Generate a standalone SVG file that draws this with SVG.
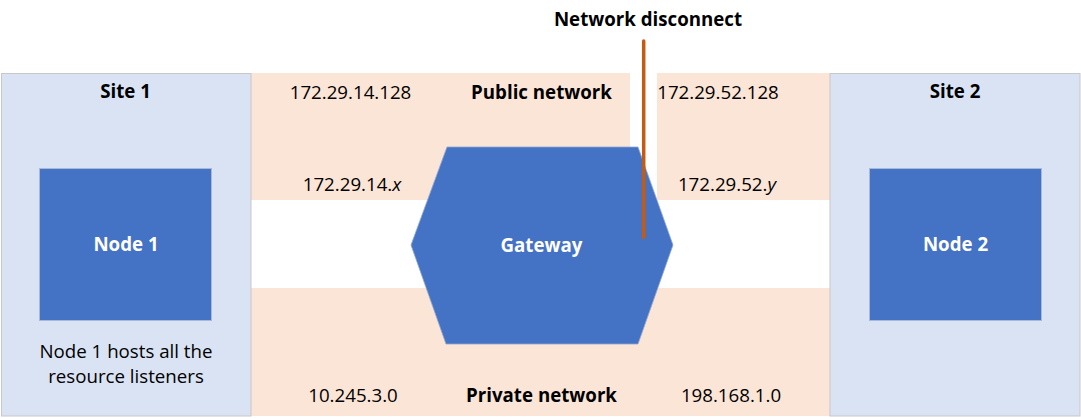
<svg xmlns="http://www.w3.org/2000/svg" width="1081" height="418" viewBox="0 0 1081 418">
<style>
.t{font-family:"Open Sans","Noto Sans",sans-serif;font-size:18.7px;fill:#000;text-anchor:middle}
.b{font-weight:bold}
.w{fill:#fff;font-weight:bold}
.site{fill:#DAE3F3;stroke:#C8C8C8;stroke-width:1}
.band{fill:#FBE5D6}
.node{fill:#4472C4;stroke:#A9B8D6;stroke-width:1}
</style>
<rect width="1081" height="418" fill="#fff"/>
<g id="networks">
<rect class="band" x="251" y="73" width="379" height="127"/>
<rect class="band" x="657" y="73" width="173" height="127"/>
<rect class="band" x="251" y="288" width="579" height="128"/>
<text class="t" x="350.5" y="99">172.29.14.128</text>
<text class="t b" x="541.5" y="99">Public network</text>
<text class="t" x="718" y="99">172.29.52.128</text>
<text class="t" x="352" y="191">172.29.14.<tspan font-style="italic">x</tspan></text>
<text class="t" x="727" y="191">172.29.52.<tspan font-style="italic">y</tspan></text>
<text class="t" x="353" y="402">10.245.3.0</text>
<text class="t b" x="541.5" y="402">Private network</text>
<text class="t" x="731" y="402">198.168.1.0</text>
</g>
<g id="site1">
<rect class="site" x="1.5" y="73.5" width="249.5" height="342.5"/>
<text class="t b" x="125.5" y="98">Site 1</text>
<text class="t" x="126" y="358">Node 1 hosts all the</text>
<text class="t" x="126" y="383">resource listeners</text>
</g>
<g id="node1">
<rect class="node" x="39.5" y="168.5" width="172" height="152"/>
<text class="t w" x="126" y="251">Node 1</text>
</g>
<g id="site2">
<rect class="site" x="830" y="73.5" width="250" height="342.5"/>
<text class="t b" x="955" y="98">Site 2</text>
</g>
<g id="node2">
<rect class="node" x="869.5" y="168.5" width="172" height="152"/>
<text class="t w" x="955.5" y="251">Node 2</text>
</g>
<g id="gateway">
<polygon points="447,147 638,147 673,245 638,344 446,344 411,245" fill="#4472C4" stroke="#8FA6D2" stroke-width="0.8"/>
<text class="t w" x="541.5" y="252">Gateway</text>
</g>
<g id="connectors">
<line x1="643.7" y1="41" x2="643.7" y2="237.5" stroke="#C55A11" stroke-width="3.5" stroke-linecap="round"/>
</g>
<text class="t b" x="648" y="26">Network disconnect</text>
</svg>
